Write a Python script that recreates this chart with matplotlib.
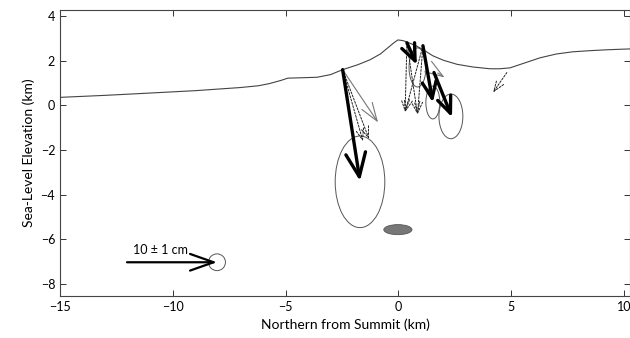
import matplotlib.pyplot as plt
from matplotlib.patches import Ellipse

# topography profile (km)
topo_x = [-15, -13, -11.45, -9, -7.0, -6.2, -5.7, -5.2, -4.9, -4.2, -3.6, -3.0,
          -2.47, -1.8, -1.26, -0.8, -0.5, -0.2, -0.02, 0.2, 0.38, 0.8, 1.09,
          1.53, 2.0, 2.6, 3.3, 4.06, 4.5, 4.95, 5.6, 6.28, 7.0, 7.74, 8.5,
          9.25, 10.3]
topo_y = [0.36, 0.45, 0.53, 0.66, 0.8, 0.88, 0.98, 1.12, 1.22, 1.24, 1.26, 1.38,
          1.6, 1.82, 2.04, 2.3, 2.55, 2.8, 2.93, 2.9, 2.84, 2.66, 2.5,
          2.22, 2.02, 1.84, 1.72, 1.64, 1.64, 1.68, 1.9, 2.13, 2.3, 2.4, 2.45,
          2.49, 2.53]

# observed displacements: start, tip, error ellipse (w, h)
obs_x0 = [-2.47, 0.38, 1.09, 1.58]
obs_y0 = [1.6, 2.8, 2.67, 1.47]
obs_x1 = [-1.70, 0.82, 1.53, 2.38]
obs_y1 = [-3.38, 1.82, 0.13, -0.53]
ell_x = [-1.70, 0.85, 1.53, 2.33]
ell_y = [-3.42, 1.7, 0.13, -0.49]
ell_w = [2.2, 0.75, 0.62, 1.06]
ell_h = [4.1, 1.75, 1.47, 2.0]
obs_head = [1.7, 1.2, 1.2, 1.2]

# model displacements (dashed)
mod_x0 = [-2.47, -2.47, 0.38, 0.38, 1.09, 1.09, 4.81]
mod_y0 = [1.6, 1.6, 2.8, 2.8, 2.67, 2.67, 1.47]
mod_x1 = [-1.57, -1.3, 0.3, 0.85, 0.85, 0.3, 4.2]
mod_y1 = [-1.6, -1.5, -0.3, -0.4, -0.4, -0.3, 0.58]

# second-source model (thin gray)
thin_x0 = [-2.47, 1.75]
thin_y0 = [1.6, 1.45]
thin_x1 = [-0.9, 2.05]
thin_y1 = [-0.76, 1.25]

# scale vector
scale_x0, scale_y0 = -12.03, -7.02
scale_x1, scale_y1 = -8.04, -7.02
scale_label = '10 ± 1 cm'

# source
src_x, src_y, src_w, src_h = -0.02, -5.56, 1.25, 0.45

plt.rcParams['font.family'] = ['Lato', 'DejaVu Sans']

fig = plt.figure(figsize=(6.3, 3.38), dpi=100)
ax = fig.add_axes([60 / 630, 42 / 338, 570 / 630, 286 / 338])

ax.plot(topo_x, topo_y, color='#444444', lw=0.8)

for i in range(len(mod_x0)):
    ax.annotate('', xy=(mod_x1[i], mod_y1[i]), xytext=(mod_x0[i], mod_y0[i]),
                arrowprops=dict(arrowstyle='->,head_length=0.8,head_width=0.3',
                                lw=0.7, ls=(0, (2, 1.5)), color='#222222',
                                shrinkA=0, shrinkB=0))

for i in range(len(thin_x0)):
    ax.annotate('', xy=(thin_x1[i], thin_y1[i]), xytext=(thin_x0[i], thin_y0[i]),
                arrowprops=dict(arrowstyle='->,head_length=1.3,head_width=0.45',
                                lw=0.8, color='#777777', shrinkA=0, shrinkB=0))

for i in range(len(obs_x0)):
    ax.add_patch(Ellipse((ell_x[i], ell_y[i]), ell_w[i], ell_h[i],
                         fill=False, ec='#555555', lw=0.7))
    hl = obs_head[i]
    ax.annotate('', xy=(obs_x1[i], obs_y1[i]), xytext=(obs_x0[i], obs_y0[i]),
                arrowprops=dict(arrowstyle=f'->,head_length={hl},head_width={hl * 0.42}',
                                lw=2.4, color='black', shrinkA=0, shrinkB=0))

# scale arrow
ax.add_patch(Ellipse((scale_x1, scale_y1), 0.75, 0.75, fill=False, ec='#555555', lw=0.7))
ax.annotate('', xy=(scale_x1, scale_y1), xytext=(scale_x0, scale_y0),
            arrowprops=dict(arrowstyle='->,head_length=1.7,head_width=0.6',
                        lw=1.6, color='black', shrinkA=0, shrinkB=0))
ax.text(-10.55, -6.45, scale_label, ha='center', va='center', fontsize=9)

ax.add_patch(Ellipse((src_x, src_y), src_w, src_h, fc='#777777', ec='#555555', lw=0.6))

ax.set_xlim(-15, 10.27)
ax.set_ylim(-8.53, 4.27)
ax.set_xticks([-15, -10, -5, 0, 5, 10])
ax.set_yticks([-8, -6, -4, -2, 0, 2, 4])
ax.tick_params(direction='in', top=True, right=True, length=4, width=0.7,
               labelsize=9, colors='#333333', labelcolor='black')
for s in ax.spines.values():
    s.set_linewidth(0.8)
    s.set_color('#444444')
ax.set_xlabel('Northern from Summit (km)', fontsize=10)
ax.set_ylabel('Sea-Level Elevation (km)', fontsize=10)

fig.savefig('out.png', dpi=100)
